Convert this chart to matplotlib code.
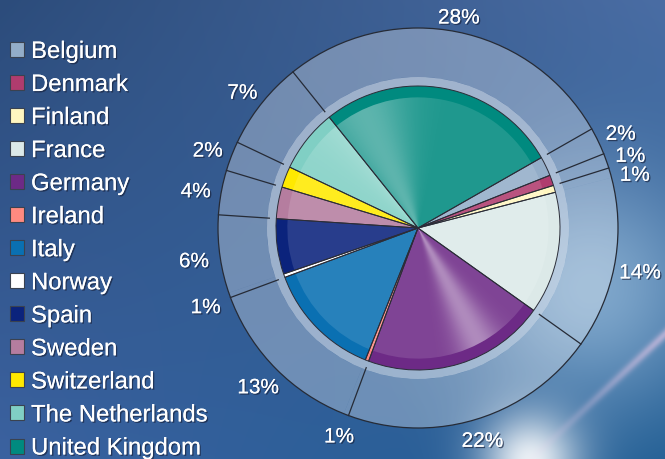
import numpy as np
import matplotlib.pyplot as plt
import matplotlib.patheffects as pe
from matplotlib.patches import Patch, Circle
from matplotlib.colors import to_rgb

plt.rcParams['font.family'] = ['Liberation Sans', 'DejaVu Sans']

countries = ['Belgium', 'Denmark', 'Finland', 'France', 'Germany', 'Ireland', 'Italy',
             'Norway', 'Spain', 'Sweden', 'Switzerland', 'The Netherlands', 'United Kingdom']
# shares; printed labels as shown on the chart
shares = [2.2, 1.2, 0.8, 13.9, 20.8, 0.4, 13.3, 0.4, 6.3, 3.6, 2.4, 7.2, 27.5]
pct_labels = ['2%', '1%', '1%', '14%', '22%', '1%', '13%', '1%', '6%', '4%', '2%', '7%', '28%']
colors = ['#93adc8', '#b03c6e', '#fff6c0', '#dce9e8', '#6d2a86', '#ff8a80', '#0a70b2',
          '#ffffff', '#0b237c', '#b57d9f', '#ffe900', '#80cfc4', '#008a7f']

W, H = 665, 460
fig = plt.figure(figsize=(6.65, 4.6), dpi=100)
ax = fig.add_axes([0, 0, 1, 1])

# background: blue gradient with a light glow and lens flare at bottom right
yy, xx = np.mgrid[0:H, 0:W].astype(float)
u, v = xx / W, yy / H
tl, tr = np.array(to_rgb('#2c4c7b')), np.array(to_rgb('#4a6da4'))
bl, br = np.array(to_rgb('#3b62a0')), np.array(to_rgb('#1f5c92'))
bg = ((1 - u) * (1 - v))[..., None] * tl + (u * (1 - v))[..., None] * tr \
    + ((1 - u) * v)[..., None] * bl + (u * v)[..., None] * br
glow = np.exp(-((xx - 590) ** 2 + (yy - 290) ** 2) / (2 * 85 ** 2))[..., None] * 0.65
bg = bg * (1 - glow) + glow * np.array(to_rgb('#a9cbe6'))
flare = np.exp(-((xx - 530) ** 2 + (yy - 462) ** 2) / (2 * 35 ** 2))[..., None] * 0.9
bg = bg * (1 - flare) + flare * np.array([1.0, 1.0, 1.0])
d = np.abs((xx - 530) * 0.68 + (yy - 460) * 0.73)
streak = (np.exp(-d ** 2 / (2 * 3.0 ** 2)) * np.clip((xx - 520) / 145, 0, 1) * 0.6)[..., None]
bg = bg * (1 - streak) + streak * np.array(to_rgb('#e8c8e8'))
ax.imshow(np.clip(bg, 0, 1), extent=(0, W, 0, H), origin='upper', zorder=0, interpolation='bilinear')

cx, cy = 418, 231
r_pie, r_band, r_ring = 142, 151, 200
start = 29.7

# translucent outer ring
ring, _ = ax.pie(shares, radius=r_ring, center=(cx, cy), startangle=start, counterclock=False,
                 colors=['white'], wedgeprops=dict(width=r_ring - r_band, alpha=0.3, linewidth=0))
ax.pie([1], radius=r_band, center=(cx, cy), colors=['#e4eaf2'],
       wedgeprops=dict(width=r_band - r_pie + 1, alpha=0.6, linewidth=0))
ax.add_patch(Circle((cx, cy), r_ring, fill=False, ec='#262b36', lw=0.9, zorder=3))

for i, w in enumerate(ring):
    if shares[i - 1] < 1:
        continue
    a = np.deg2rad(w.theta2)
    ax.plot([cx + (r_band - 2) * np.cos(a), cx + r_ring * np.cos(a)],
            [cy + (r_band - 2) * np.sin(a), cy + r_ring * np.sin(a)], color='#262b36', lw=0.9, zorder=3)

# inner pie, darker rim and lighter centre
ax.pie(shares, radius=r_pie, center=(cx, cy), startangle=start, counterclock=False,
       colors=colors, wedgeprops=dict(linewidth=0))
lighter = [tuple(0.88 * np.array(to_rgb(c)) + 0.12) for c in colors]
ax.pie(shares, radius=r_pie * 0.92, center=(cx, cy), startangle=start, counterclock=False,
       colors=lighter, wedgeprops=dict(linewidth=0))

# glossy sheen on the inner pie
gy, gx = np.mgrid[cy + r_pie:cy - r_pie:-1, cx - r_pie:cx + r_pie].astype(float)
ang = np.degrees(np.arctan2(gy - cy, gx - cx))
sheen = np.zeros(gx.shape + (4,))
sheen[..., :3] = 1.0
sheen[..., 3] = 0.38 * np.exp(-0.5 * ((ang + 62) / 7) ** 2) + 0.28 * np.exp(-0.5 * ((ang - 115) / 14) ** 2)
im = ax.imshow(sheen, extent=(cx - r_pie, cx + r_pie, cy - r_pie, cy + r_pie), origin='upper', zorder=2)
im.set_clip_path(Circle((cx, cy), r_pie * 0.92, transform=ax.transData))

ax.pie(shares, radius=r_pie, center=(cx, cy), startangle=start, counterclock=False,
       colors=['none'], wedgeprops=dict(edgecolor='#2b2d38', linewidth=0.7, zorder=3))

shadow = [pe.withSimplePatchShadow(offset=(1, -1), shadow_rgbFace='#1a2540', alpha=0.7), pe.Normal()]
prev = None
for w, lab in zip(ring, pct_labels):
    a = np.deg2rad((w.theta1 + w.theta2) / 2)
    r_lab = 216 + 10 * abs(np.cos(a))
    x, y = cx + r_lab * np.cos(a), cy - 4 + r_lab * np.sin(a)
    # keep neighbouring small labels on the right from piling up
    if prev is not None and abs(x - prev[0]) < 30 and 0 <= prev[1] - y < 19:
        y = prev[1] - 19
    ax.text(x, y, lab, ha='center', va='center', fontsize=15, color='white',
            path_effects=shadow, zorder=5)
    prev = (x, y)

handles = [Patch(facecolor=c, edgecolor='#3a4250', linewidth=0.8) for c in colors]
leg = ax.legend(handles, countries, loc='upper left', bbox_to_anchor=(10 / W, 1 - 42 / H),
                bbox_transform=fig.transFigure, frameon=False, fontsize=17.2, labelcolor='white',
                handlelength=0.59, handleheight=0.59, handletextpad=0.29, labelspacing=0.462,
                borderpad=0, borderaxespad=0)
for t in leg.get_texts():
    t.set_path_effects(shadow)

ax.set_xlim(0, W)
ax.set_ylim(0, H)
ax.set_aspect('equal')
ax.axis('off')
fig.savefig('out.png', dpi=100)
